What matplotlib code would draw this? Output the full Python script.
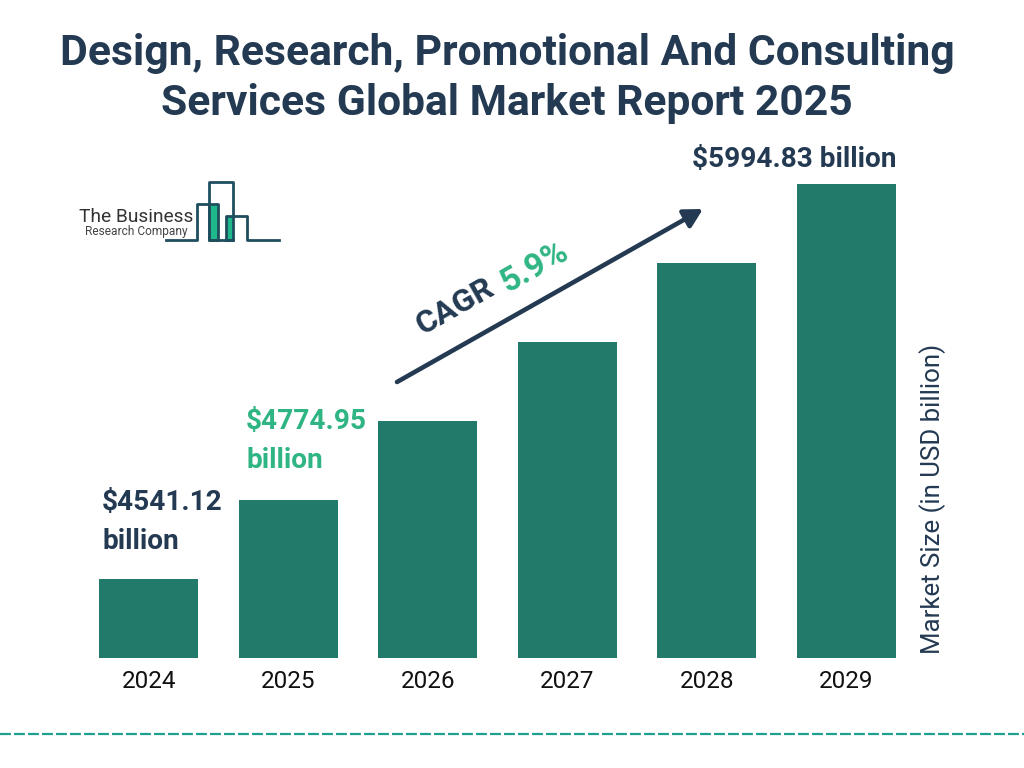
import matplotlib
matplotlib.use('Agg')
import matplotlib.pyplot as plt
from matplotlib.patches import Rectangle

years = ['2024', '2025', '2026', '2027', '2028', '2029']
# the bars in the picture step up evenly, they are not to scale with the labels
bar_heights = [1, 2, 3, 4, 5, 6]
title_lines = ['Design, Research, Promotional And Consulting',
               'Services Global Market Report 2025']
label_2024 = ['$4541.12', 'billion']
label_2025 = ['$4774.95', 'billion']
label_2029 = '$5994.83 billion'
cagr_value = '5.9%'

NAVY = '#233a52'
BAR = '#217a6a'
GREEN = '#2fb583'
LOGO = '#1f4e5f'
W, H = 1024, 768

plt.rcParams['font.family'] = ['Roboto', 'DejaVu Sans']

fig = plt.figure(figsize=(W / 100, H / 100), dpi=100)

# chart axes, placed so the bars land on the reference pixels
left, right, top, bottom = 78.9, 916.3, 184, 658
ax = fig.add_axes([left / W, 1 - bottom / H, (right - left) / W, (bottom - top) / H])
ax.bar(years, bar_heights, width=0.709, color=BAR)
ax.set_xlim(-0.5, 5.5)
ax.set_ylim(0, 6)
ax.set_yticks([])
ax.tick_params(axis='x', length=0, pad=9, labelsize=17.5, labelcolor='#111111')
for s in ax.spines.values():
    s.set_visible(False)

# overlay in pixel coordinates for the title, logo and notes
ov = fig.add_axes([0, 0, 1, 1], zorder=5)
ov.set_xlim(0, W)
ov.set_ylim(H, 0)
ov.axis('off')

ov.text(507, 54, title_lines[0], ha='center', va='center', fontsize=30.7, fontweight='bold', color=NAVY)
ov.text(507, 104, title_lines[1], ha='center', va='center', fontsize=30.7, fontweight='bold', color=NAVY)

ov.text(102, 502.5, label_2024[0], va='center', fontsize=20.2, fontweight='bold', color=NAVY)
ov.text(102, 541.5, label_2024[1], va='center', fontsize=20.2, fontweight='bold', color=NAVY)
ov.text(246, 421.5, label_2025[0], va='center', fontsize=20.2, fontweight='bold', color=GREEN)
ov.text(246, 460.5, label_2025[1], va='center', fontsize=20.2, fontweight='bold', color=GREEN)
ov.text(896, 159, label_2029, ha='right', va='center', fontsize=20.2, fontweight='bold', color=NAVY)

ov.text(933, 499, 'Market Size (in USD billion)', rotation=90, ha='center', va='center',
        fontsize=18.6, color=NAVY)

# CAGR arrow and rotated text
ov.annotate('', xy=(703, 209), xytext=(397, 382),
            arrowprops=dict(arrowstyle='-|>,head_length=1.1,head_width=0.6', color=NAVY, lw=3.3,
                            shrinkA=0, shrinkB=0))
ov.text(455, 306, 'CAGR', rotation=29.5, rotation_mode='anchor', ha='center', va='center',
        fontsize=23, fontweight='bold', color=NAVY)
ov.text(534, 267, cagr_value, rotation=29.5, rotation_mode='anchor', ha='center', va='center',
        fontsize=24, fontweight='bold', color=GREEN)

# logo
ov.add_patch(Rectangle((209, 204), 9, 36, color='#1fb88a', lw=0))
ov.add_patch(Rectangle((227, 217), 6, 23, color='#1fb88a', lw=0))
ov.plot([166, 197, 197, 218, 218, 209, 209, 233, 233, 209, 209],
        [240, 240, 204, 204, 240, 240, 182, 182, 240, 240, 204], color=LOGO, lw=2)
ov.plot([226, 226, 247, 247, 279], [240, 216, 216, 240, 240], color=LOGO, lw=2)
ov.plot([226, 233], [240, 240], color=LOGO, lw=2)
ov.text(79, 217, 'The Business', va='center', fontsize=13.8, color='#333333')
ov.text(85, 231, 'Research Company', va='center', fontsize=8.6, color='#444444')

# dashed rule near the bottom
ov.plot([0, W], [734, 734], color='#1fa08e', lw=1.6, dashes=(4.9, 1.4))

fig.savefig('out.png', dpi=100)
